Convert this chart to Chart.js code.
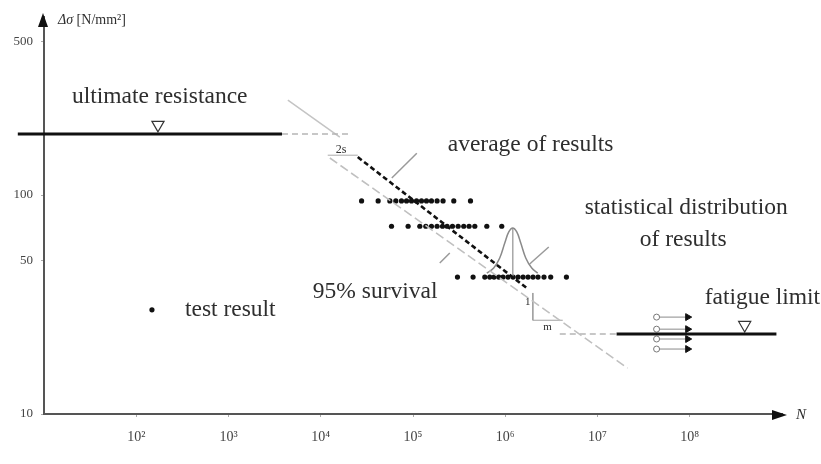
<!DOCTYPE html>
<html>
<head>
<meta charset="utf-8">
<style>
  html, body { margin: 0; padding: 0; background: #fff; }
  #wrap { width: 821px; height: 464px; }
</style>
<script src="https://cdn.jsdelivr.net/npm/chart.js@4/dist/chart.umd.min.js"></script>
</head>
<body>
<div id="wrap"><canvas id="snChart" width="821" height="464"></canvas></div>
<script>
// tick labels
const xTickValues = [1e2, 1e3, 1e4, 1e5, 1e6, 1e7, 1e8];
const xTickLabels = ['10²', '10³', '10⁴', '10⁵', '10⁶', '10⁷', '10⁸'];
const yTickValues = [10, 50, 100, 500];

// test results, one row of cycles per stress level
const stressLevels = [94, 72, 42.2];
const row1N = [27700, 41900, 56100, 65100, 75000, 85100, 96400, 109200, 123600, 140000, 158500, 182400, 211800, 276700, 420000];
const row2N = [58500, 88500, 118600, 137700, 158500, 182400, 208900, 234400, 267900, 308300, 354800, 405500, 467700, 631000, 916000];
const row3N = [303400, 448000, 600000, 679000, 756000, 851000, 946000, 1072000, 1216000, 1377000, 1560000, 1766000, 2000000, 2265000, 2631000, 3110000, 4603000];

// ultimate resistance and fatigue limit
const ultimateStress = 190;
const ultimateN = [5.2, 3800];
const ultimateDashN = [3800, 20700];
const ultimateMark = [172, 209];
const fatigueStress = 23.2;
const fatigueN = [1.61e7, 8.7e8];
const fatigueDashN = [3.9e6, 1.61e7];
const fatigueMark = [3.94e8, 25.5];

// S-N lines
const meanN = [25200, 1710000];
const meanS = [149, 37.6];
const survivalN = [12550, 2.12e7];
const survivalS = [147.6, 16.2];
const upperN = [4400, 16100];
const upperS = [271, 184];
const twoSN = [11900, 25200];
const twoSStress = 152;

// run-outs at the fatigue limit
const runoutS = [27.7, 24.4, 22.0, 19.8];
const runoutN = [4.37e7, 9.5e7];

// scatter band (bell curve)
const bellN = [631000, 750000, 871000, 988000, 1092000, 1205000, 1333000, 1473000, 1668000, 1937000, 2249000];
const bellS = [44.0, 46.4, 51.6, 60.4, 67.8, 70.7, 67.8, 60.4, 51.6, 46.4, 44.0];
const bellAxisN = 1205000;
const bellAxisS = [70.7, 42.2];

// slope triangle 1:m
const slopeN = [1.99e6, 1.99e6, 4.2e6];
const slopeS = [35.7, 26.8, 26.8];

// leader lines
const leaderMean = [[58900, 119.7], [110000, 155]];
const leaderSurvival = [[195000, 48.9], [250600, 54.4]];
const leaderStat = [[1.84e6, 48.4], [2.96e6, 57.9]];

// legend sample
const legendPoint = [148, 29.9];

const serif = '"Liberation Serif", "Times New Roman", serif';
const textColor = '#2e2e2e';

function pts(xs, ys) {
    return xs.map((x, i) => ({ x: x, y: Array.isArray(ys) ? ys[i] : ys }));
}

function lineSet(data, color, width, dash, extra) {
    return Object.assign({
        type: 'line',
        data: data,
        borderColor: color,
        borderWidth: width,
        borderDash: dash || [],
        pointRadius: 0,
        fill: false,
        tension: 0
    }, extra || {});
}

function dotSet(xs, y) {
    return {
        type: 'scatter',
        data: pts(xs, y),
        pointRadius: 2.6,
        pointBackgroundColor: '#111',
        pointBorderWidth: 0
    };
}

const datasets = [
    lineSet(pts(ultimateN, ultimateStress), '#111', 3, [], { clip: false }),
    lineSet(pts(ultimateDashN, ultimateStress), '#b5b5b5', 1.5, [6, 4]),
    lineSet(pts(upperN, upperS), '#c4c4c4', 1.5, []),
    lineSet(pts(twoSN, twoSStress), '#aaa', 1, []),
    lineSet(pts(survivalN, survivalS), '#c0c0c0', 1.6, [9, 4]),
    lineSet(pts(meanN, meanS), '#111', 2.6, [5, 3]),
    lineSet(pts(fatigueDashN, fatigueStress), '#b5b5b5', 1.5, [6, 4]),
    lineSet(pts(fatigueN, fatigueStress), '#111', 3, []),
    lineSet(pts(bellN, bellS), '#8a8a8a', 1.5, [], { tension: 0.4 }),
    lineSet(pts([bellAxisN, bellAxisN], bellAxisS), '#aaa', 1, []),
    lineSet(pts(slopeN, slopeS), '#a0a0a0', 1, []),
    lineSet(leaderMean.map(p => ({ x: p[0], y: p[1] })), '#9a9a9a', 1.5, []),
    lineSet(leaderSurvival.map(p => ({ x: p[0], y: p[1] })), '#9a9a9a', 1.5, []),
    lineSet(leaderStat.map(p => ({ x: p[0], y: p[1] })), '#9a9a9a', 1.5, []),
    dotSet(row1N, stressLevels[0]),
    dotSet(row2N, stressLevels[1]),
    dotSet(row3N, stressLevels[2]),
    dotSet([legendPoint[0]], legendPoint[1]),
    {
        type: 'scatter',
        data: [{ x: ultimateMark[0], y: ultimateMark[1] }, { x: fatigueMark[0], y: fatigueMark[1] }],
        pointStyle: 'triangle',
        rotation: 180,
        pointRadius: 7,
        pointBackgroundColor: '#fff',
        pointBorderColor: '#333',
        pointBorderWidth: 1.2
    }
];

runoutS.forEach(function(s) {
    datasets.push(lineSet(pts(runoutN, s), '#8a8a8a', 1, [], {
        pointRadius: [3, 4],
        pointStyle: ['circle', 'triangle'],
        pointRotation: [0, 90],
        pointBackgroundColor: ['#fff', '#111'],
        pointBorderColor: ['#777', '#111'],
        pointBorderWidth: 1
    }));
});

// text annotations, anchored in data space: [text, N, stress, size, align]
const labels = [
    ['ultimate resistance', 20.1, 280, 23.5, 'left'],
    ['average of results', 238000, 169, 23.5, 'left'],
    ['statistical distribution', 7.26e6, 87.3, 23.5, 'left'],
    ['of results', 2.87e7, 62.4, 23.5, 'left'],
    ['95% survival', 8200, 36.1, 23.5, 'left'],
    ['test result', 337, 29.8, 23.5, 'left'],
    ['fatigue limit', 1.45e8, 33.9, 23.5, 'left'],
    ['2s', 14500, 160, 12, 'left'],
    ['1', 1.75e6, 32.4, 11, 'center'],
    ['m', 2.88e6, 25.0, 11, 'center']
];

const decorations = {
    id: 'decorations',
    afterDatasetsDraw(chart) {
        const ctx = chart.ctx;
        const xs = chart.scales.x, ys = chart.scales.y;
        const area = chart.chartArea;
        ctx.save();
        ctx.fillStyle = textColor;
        ctx.textBaseline = 'middle';
        labels.forEach(function(l) {
            ctx.font = l[3] + 'px ' + serif;
            ctx.textAlign = l[4];
            ctx.fillText(l[0], xs.getPixelForValue(l[1]), ys.getPixelForValue(l[2]));
        });

        // axis arrows
        ctx.fillStyle = '#111';
        ctx.beginPath();
        ctx.moveTo(area.left - 1, area.top - 4);
        ctx.lineTo(area.left - 6, area.top + 10);
        ctx.lineTo(area.left + 4, area.top + 10);
        ctx.closePath();
        ctx.fill();
        ctx.beginPath();
        ctx.moveTo(area.right + 5, area.bottom + 1);
        ctx.lineTo(area.right - 10, area.bottom - 4);
        ctx.lineTo(area.right - 10, area.bottom + 6);
        ctx.closePath();
        ctx.fill();

        // axis titles
        ctx.fillStyle = textColor;
        ctx.textAlign = 'left';
        ctx.font = 'italic 15px ' + serif;
        ctx.fillText('N', area.right + 14, area.bottom + 1);
        ctx.font = 'italic 14px ' + serif;
        ctx.fillText('Δσ', area.left + 14, area.top + 3);
        const w = ctx.measureText('Δσ').width;
        ctx.font = '14px ' + serif;
        ctx.fillText(' [N/mm²]', area.left + 14 + w, area.top + 3);
        ctx.restore();
    }
};

const ctx = document.getElementById('snChart').getContext('2d');
new Chart(ctx, {
    data: { datasets: datasets },
    options: {
        responsive: false,
        animation: false,
        layout: { padding: { top: 17, right: 39, left: 0, bottom: 0 } },
        plugins: {
            legend: { display: false },
            tooltip: { enabled: false }
        },
        scales: {
            x: {
                type: 'logarithmic',
                min: 10,
                max: 1e9,
                afterFit: function(scale) { scale.height = 50; },
                afterBuildTicks: function(scale) {
                    scale.ticks = xTickValues.map(v => ({ value: v, major: true }));
                },
                ticks: {
                    autoSkip: false,
                    maxRotation: 0,
                    padding: 12,
                    color: '#444',
                    font: { family: serif, size: 14 },
                    callback: function(v) {
                        const i = xTickValues.indexOf(v);
                        return i >= 0 ? xTickLabels[i] : '';
                    }
                },
                grid: { drawOnChartArea: false, drawTicks: true, tickLength: 3, color: '#aaa' },
                border: { color: '#555', width: 2 }
            },
            y: {
                type: 'logarithmic',
                min: 10,
                max: 650,
                afterFit: function(scale) { scale.width = 44; },
                afterBuildTicks: function(scale) {
                    scale.ticks = yTickValues.map(v => ({ value: v, major: true }));
                },
                ticks: {
                    autoSkip: false,
                    padding: 8,
                    color: '#444',
                    font: { family: serif, size: 13 },
                    callback: function(v) { return String(v); }
                },
                grid: { drawOnChartArea: false, drawTicks: true, tickLength: 3, color: '#aaa' },
                border: { color: '#555', width: 2 }
            }
        }
    },
    plugins: [decorations]
});
</script>
</body>
</html>
